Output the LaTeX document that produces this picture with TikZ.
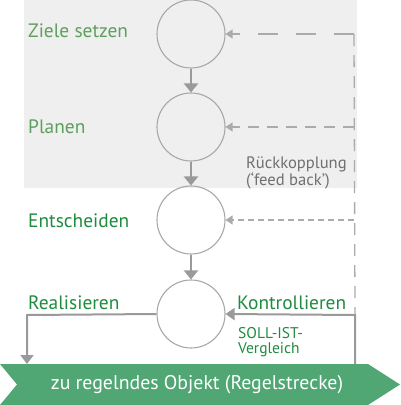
\documentclass[tikz,border=0pt]{standalone}
\usepackage{fontspec}
\setmainfont{PT Sans}
\usetikzlibrary{arrows.meta}
\definecolor{bgG}{HTML}{EFEFEF}
\definecolor{lgreen}{HTML}{5E9F5E}
\definecolor{dgreen}{HTML}{1E8B3F}
\definecolor{bandG}{HTML}{50A773}
\definecolor{arrG}{HTML}{9A9A9A}
\definecolor{circG}{HTML}{A8A8A8}
\definecolor{dashG}{HTML}{ABABAB}
\definecolor{fbtext}{HTML}{707070}
\tikzset{
  stepcirc/.style={circle, draw=circG, line width=1.1pt, minimum size=68pt, inner sep=0pt},
  flow/.style={draw=arrG, line width=2.4pt, -{Triangle[width=14pt,length=9pt]}},
  fbline/.style={draw=dashG, line width=1.3pt},
  fbarrow/.style={draw=dashG, line width=1.3pt, -{Triangle[width=9pt,length=7pt]}},
  lbl/.style={anchor=base west, inner sep=0pt, font=\fontsize{19.4}{21}\selectfont},
  small/.style={anchor=base west, inner sep=0pt, align=left}
}
\begin{document}
\begin{tikzpicture}[x=1pt,y=-1pt]
\useasboundingbox (0,0) rectangle (400,405);
\fill[bgG] (24,0) rectangle (357,188);
% band
\fill[bandG] (0,364) -- (368,364) -- (400,384.5) -- (368,405) -- (0,405) -- (17,384.5) -- cycle;
\node[inner sep=0pt, text=white, font=\fontsize{19.8}{21}\selectfont] (band) at (197,384.5) {zu regelndes Objekt (Regelstrecke)};
% circles
\node[stepcirc] (c1) at (191,34) {};
\node[stepcirc] (c2) at (191,127) {};
\node[stepcirc] (c3) at (191,220) {};
\node[stepcirc] (c4) at (191,314) {};
\draw[flow] (c1.south) -- (c2.north);
\draw[flow] (c2.south) -- (c3.north);
\draw[flow] (c3.south) -- (c4.north);
% labels
\node[lbl, text=lgreen] (t1) at (28,37) {Ziele setzen};
\node[lbl, text=lgreen] (t2) at (28,133) {Planen};
\node[lbl, text=dgreen] (t3) at (28,227) {Entscheiden};
\node[lbl, text=dgreen] (t4) at (28,309) {Realisieren};
\node[lbl, text=dgreen] (t5) at (237,309) {Kontrollieren};
\node[small, text=dgreen, font=\fontsize{15.5}{14.5}\selectfont] (t6) at (238,353) {SOLL-IST-\\Vergleich};
\node[small, text=fbtext, font=\fontsize{16.6}{17}\selectfont] (t7) at (246,185) {Rückkopplung\\(‘feed back’)};
% feedback
\coordinate (f1) at (354,34);
\coordinate (f2) at (354,127);
\coordinate (f3) at (354,220);
\coordinate (f4) at (355,315);
\coordinate (fb) at (355,364);
\coordinate (r1) at (27,315);
\coordinate (r2) at (27,364);
\draw[fbline, dash pattern=on 12pt off 9pt] (f1) -- (f4);
\draw[fbarrow, dash pattern=on 20pt off 18pt] (f1) -- (c1.east);
\draw[fbarrow, dash pattern=on 11pt off 8pt] (f2) -- (c2.east);
\draw[fbarrow, dash pattern=on 6pt off 4pt] (f3) -- (c3.east);
\draw[draw=arrG, line width=2pt, -{Triangle[width=12pt,length=9pt]}] (fb) -- (f4) -- (c4.east);
\draw[draw=arrG, line width=2pt, -{Triangle[width=13pt,length=9pt]}] (c4.west) -- (r1) -- (r2);
\end{tikzpicture}
\end{document}
